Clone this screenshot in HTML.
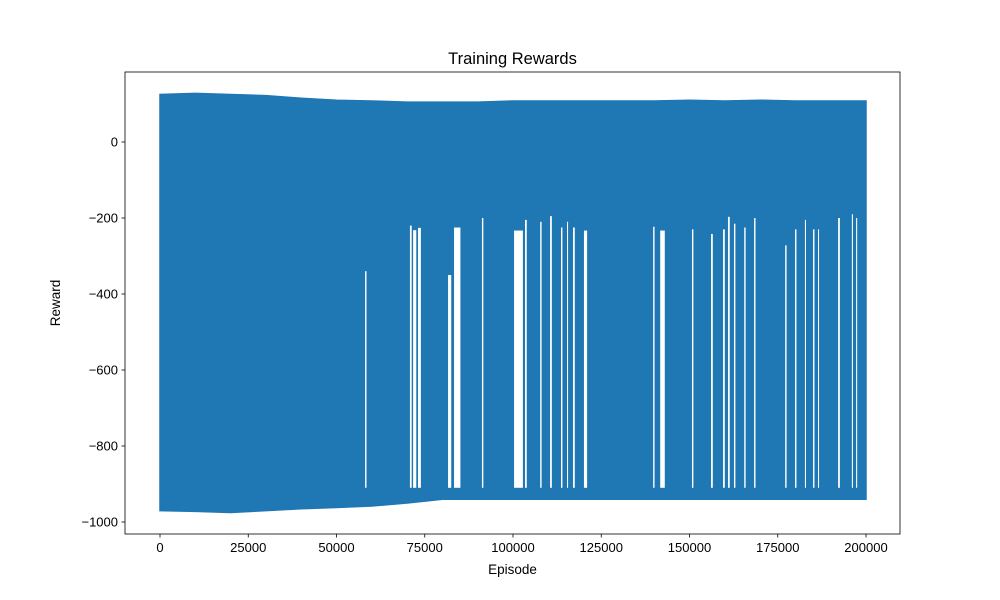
<!DOCTYPE html>
<html><head><meta charset="utf-8"><style>
body{margin:0;background:#fff}
svg{display:block;font-family:"Liberation Sans","DejaVu Sans",sans-serif}
</style></head><body>
<svg id="chart" width="1000" height="600" viewBox="0 0 1000 600" xmlns="http://www.w3.org/2000/svg">
<rect width="1000" height="600" fill="#fff"/>
<text x="512.5" y="64" text-anchor="middle" font-size="16.5">Training Rewards</text>
<g id="plot"></g>
<g id="axes"></g>
<text x="512.5" y="574" text-anchor="middle" font-size="13.5">Episode</text>
<text transform="translate(60,303) rotate(-90)" text-anchor="middle" font-size="13.5">Reward</text>
</svg>
<script>
const binEpisodes=[0,10000,20000,30000,40000,50000,60000,70000,80000,90000,100000,110000,120000,130000,140000,150000,160000,170000,180000,190000,200000];
const binHigh=[125,128,125,122,115,110,108,105,105,105,108,108,108,108,108,110,108,110,108,108,108];
const binLow=[-970,-972,-975,-970,-965,-962,-958,-950,-940,-940,-940,-940,-940,-940,-940,-940,-940,-940,-940,-940,-940];
const gapEpisodes=[58100,70800,71700,73100,81600,83300,91200,100300,103400,107700,110500,113600,115300,117000,120100,139700,141700,150700,156100,159500,160900,162600,165500,168300,177100,179900,182700,185000,186400,192100,196000,197200];
const gapTops=[-340,-220,-232,-226,-350,-225,-200,-233,-205,-210,-195,-225,-210,-225,-233,-223,-233,-230,-242,-230,-197,-215,-225,-200,-272,-230,-205,-230,-230,-200,-190,-200];
const gapSpans=[400,500,900,800,900,1800,400,2500,500,400,500,400,300,500,900,400,1300,400,500,500,500,400,400,400,400,400,300,400,300,500,300,300];
const gapBottom=-910;
const xTicks=[0,25000,50000,75000,100000,125000,150000,175000,200000];
const yTicks=[0,-200,-400,-600,-800,-1000];

const L=125,R=900,T=72,B=534;
const X=e=>160+(e-0)*706/200000;
const Y=v=>142-v*0.38;
const NS='http://www.w3.org/2000/svg';
function mk(t,a,p){const el=document.createElementNS(NS,t);for(const k in a)el.setAttribute(k,a[k]);p.appendChild(el);return el;}
const plot=document.getElementById('plot'),axes=document.getElementById('axes');

let pts=[[X(0),Y(0)],[X(0),Y(binHigh[0])]];
binEpisodes.forEach((e,i)=>pts.push([X(e),Y(binHigh[i])]));
for(let i=binEpisodes.length-1;i>=0;i--)pts.push([X(binEpisodes[i]),Y(binLow[i])]);
const env=mk('polygon',{points:pts.map(p=>p.join(',')).join(' '),fill:'#1f77b4',stroke:'#1f77b4','stroke-width':1.5},plot);


gapEpisodes.forEach((e,i)=>{
  const w=Math.max(1,X(e+gapSpans[i])-X(e));
  const g=mk('rect',{x:X(e),y:Y(gapTops[i]),width:w,height:Y(gapBottom)-Y(gapTops[i]),fill:'#fff'},plot);
  
  
});
const fr=mk('rect',{x:L,y:T,width:R-L,height:B-T,fill:'none',stroke:'#000','stroke-width':0.8},axes);


xTicks.forEach(t=>{
  const x=X(t);
  mk('line',{x1:x,x2:x,y1:B,y2:B+3.5,stroke:'#000','stroke-width':0.8},axes);
  const tx=mk('text',{x:x,y:B+18,'text-anchor':'middle','font-size':13},axes);
  tx.textContent=t;
  
  
});
yTicks.forEach(t=>{
  const y=Y(t);
  mk('line',{x1:L-3.5,x2:L,y1:y,y2:y,stroke:'#000','stroke-width':0.8},axes);
  const tx=mk('text',{x:L-7,y:y+4.5,'text-anchor':'end','font-size':13},axes);
  tx.textContent=t<0?'\u2212'+Math.abs(t):t;
  
  
});
</script>
</body></html>
